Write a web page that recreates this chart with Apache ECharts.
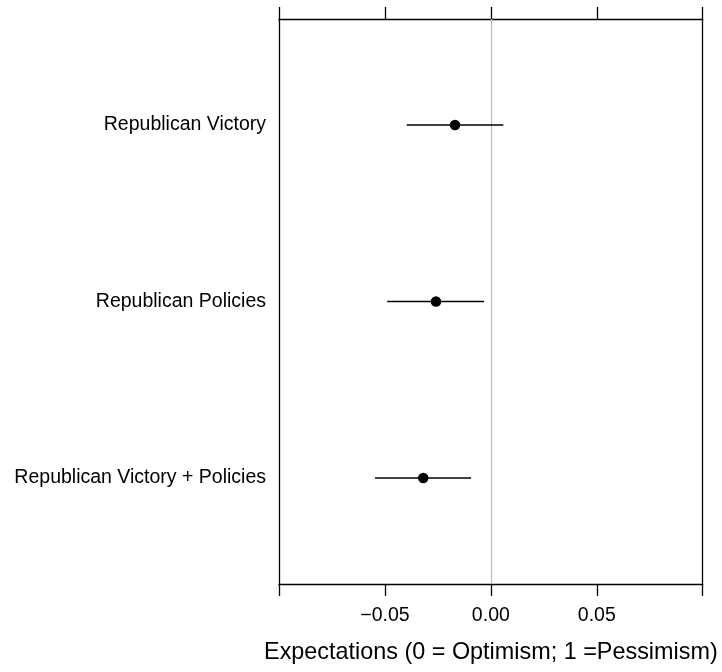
<!DOCTYPE html>
<html>
<head>
<meta charset="utf-8">
<script src="https://cdn.jsdelivr.net/npm/echarts@6/dist/echarts.min.js"></script>
<style>
  html, body { margin: 0; padding: 0; background: #fff; }
  #chart { width: 722px; height: 672px; }
</style>
</head>
<body>
<div id="chart"></div>
<script>
// Treatment effects on expectations with confidence intervals
const categories = ['Republican Victory', 'Republican Policies', 'Republican Victory + Policies'];
const rowPositions = [3, 2, 1];
const estimates = [-0.0169, -0.0259, -0.0319];
const lowerBounds = [-0.0397, -0.0489, -0.0547];
const upperBounds = [0.0059, -0.0032, -0.0093];
const xTickValues = [-0.1, -0.05, 0, 0.05, 0.1];
const xLabelValues = [-0.05, 0, 0.05];
const xLabelTexts = ['\u22120.05', '0.00', '0.05'];
const axisTitle = 'Expectations (0 = Optimism; 1 =Pessimism)';

const FONT = "'Liberation Sans', Arial, sans-serif";

const pointData = estimates.map((v, i) => [v, rowPositions[i]]);
const barData = lowerBounds.map((lo, i) => [lo, upperBounds[i], rowPositions[i]]);

const chart = echarts.init(document.getElementById('chart'), null, { renderer: 'canvas' });

const xLabelFor = v => {
  const i = xLabelValues.findIndex(t => Math.abs(t - v) < 1e-9);
  return i >= 0 ? xLabelTexts[i] : '';
};
const yLabelFor = v => {
  const i = rowPositions.findIndex(p => Math.abs(p - v) < 1e-9);
  return i >= 0 ? categories[i] : '';
};

const frameLine = { show: true, onZero: false, lineStyle: { color: '#000', width: 1.3 } };

chart.setOption({
  animation: false,
  backgroundColor: '#fff',
  grid: { left: 279, right: 19.3, top: 19, bottom: 88, containLabel: false },
  xAxis: [
    {
      type: 'value', position: 'bottom', min: -0.1, max: 0.1, interval: 0.05,
      axisLine: frameLine,
      axisTick: { show: true, inside: false, length: 12, customValues: xTickValues,
                  lineStyle: { color: '#000', width: 1.3 } },
      axisLabel: { show: true, customValues: xLabelValues, formatter: xLabelFor,
                   margin: 22, color: '#000', fontSize: 19.5, fontFamily: FONT },
      splitLine: { show: false },
      name: axisTitle, nameLocation: 'middle', nameGap: 57,
      nameTextStyle: { color: '#000', fontSize: 23.4, fontFamily: FONT }
    },
    {
      type: 'value', position: 'top', min: -0.1, max: 0.1, interval: 0.05,
      axisLine: frameLine,
      axisTick: { show: true, inside: false, length: 12, customValues: xTickValues,
                  lineStyle: { color: '#000', width: 1.3 } },
      axisLabel: { show: false },
      splitLine: { show: false }
    }
  ],
  yAxis: [
    {
      type: 'value', position: 'left', min: 0.4, max: 3.6,
      axisLine: frameLine,
      axisTick: { show: false },
      axisLabel: { show: true, customValues: rowPositions, formatter: yLabelFor,
                   margin: 13, color: '#000', fontSize: 19.5, fontFamily: FONT },
      splitLine: { show: false }
    },
    {
      type: 'value', position: 'right', min: 0.4, max: 3.6,
      axisLine: frameLine,
      axisTick: { show: false },
      axisLabel: { show: false },
      splitLine: { show: false }
    }
  ],
  series: [
    {
      type: 'custom',
      xAxisIndex: 0, yAxisIndex: 0,
      z: 3,
      data: barData,
      renderItem: (params, api) => {
        const a = api.coord([api.value(0), api.value(2)]);
        const b = api.coord([api.value(1), api.value(2)]);
        return {
          type: 'line',
          shape: { x1: a[0], y1: a[1], x2: b[0], y2: b[1] },
          style: { stroke: '#000', lineWidth: 1.5 }
        };
      },
      markLine: {
        silent: true, symbol: 'none', z: 1,
        label: { show: false },
        lineStyle: { color: '#bebebe', width: 1.3, type: 'solid' },
        data: [{ xAxis: 0 }]
      }
    },
    {
      type: 'scatter',
      xAxisIndex: 0, yAxisIndex: 0,
      z: 4,
      symbol: 'circle', symbolSize: 10.5,
      itemStyle: { color: '#000', opacity: 1 },
      data: pointData
    }
  ]
});
</script>
</body>
</html>
